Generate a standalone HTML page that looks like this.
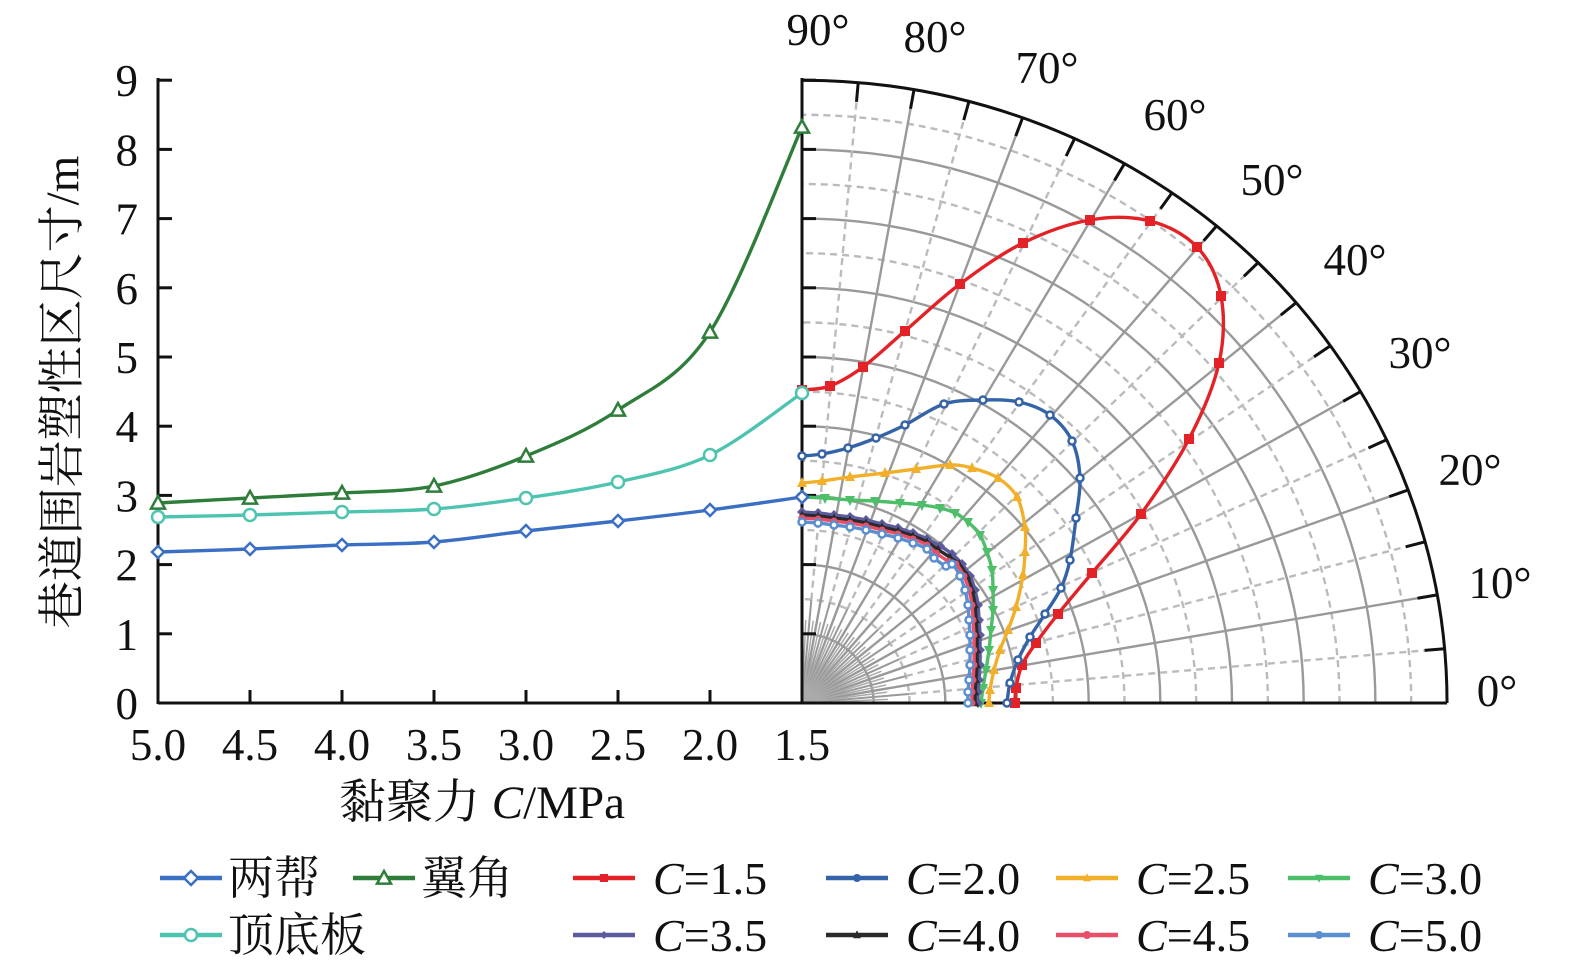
<!DOCTYPE html>
<html><head><meta charset="utf-8"><style>
html,body{margin:0;padding:0;background:#fff;}
svg{display:block;font-family:"Liberation Serif","Noto Serif CJK SC",serif;}
</style></head><body>
<svg id="s" width="1575" height="974" viewBox="0 0 1575 974" xmlns="http://www.w3.org/2000/svg">
<g id="grid"></g>
<g id="axes"></g>
<g id="data"></g>
<g id="txt" font-size="45" fill="#111"></g>
</svg>
<script>
const NS="http://www.w3.org/2000/svg";
function el(p,t,a,txt){const e=document.createElementNS(NS,t);for(const k in a)e.setAttribute(k,a[k]);if(txt!==undefined)e.textContent=txt;document.getElementById(p).appendChild(e);return e;}
const cx=802,cy=703,ux=71.67,uy=69.2;
for(let r=0.5;r<9;r+=0.5){
  const solid=Math.abs(r-Math.round(r))<0.01;
  el('grid','path',{d:`M${cx+r*ux},${cy} A${r*ux} ${r*uy} 0 0 0 ${cx},${cy-r*uy}`,fill:'none',stroke:solid?'#999':'#bbb','stroke-width':2.4,'stroke-dasharray':solid?'none':'7 5'});
}
for(let a=10;a<90;a+=10){
  const t=a*Math.PI/180;
  el('grid','line',{x1:cx,y1:cy,x2:cx+9*ux*Math.cos(t),y2:cy-9*uy*Math.sin(t),stroke:'#999','stroke-width':2.4});
}
for(let a=5;a<90;a+=10){
  const t=a*Math.PI/180;
  el('grid','line',{x1:cx,y1:cy,x2:cx+1.5*ux*Math.cos(t),y2:cy-1.5*uy*Math.sin(t),stroke:'#999','stroke-width':2});
  el('grid','line',{x1:cx+1.5*ux*Math.cos(t),y1:cy-1.5*uy*Math.sin(t),x2:cx+9*ux*Math.cos(t),y2:cy-9*uy*Math.sin(t),stroke:'#bbb','stroke-width':2.4,'stroke-dasharray':'7 5'});
}
for(let a=2.5;a<90;a+=5){
  const t=a*Math.PI/180;
  el('grid','line',{x1:cx,y1:cy,x2:cx+1.2*ux*Math.cos(t),y2:cy-1.2*uy*Math.sin(t),stroke:'#aaa','stroke-width':1.5});
}
el('axes','path',{d:`M${cx+9*ux},${cy} A${9*ux} ${9*uy} 0 0 0 ${cx},${cy-9*uy}`,fill:'none',stroke:'#111','stroke-width':3});
for(let a=5;a<90;a+=5){const t=a*Math.PI/180;
  el('axes','line',{x1:cx+9*ux*Math.cos(t),y1:cy-9*uy*Math.sin(t),x2:cx+8.72*ux*Math.cos(t),y2:cy-8.72*uy*Math.sin(t),stroke:'#111','stroke-width':3});}
el('axes','line',{x1:158,y1:703,x2:cx+9*ux,y2:703,stroke:'#111','stroke-width':3});
el('axes','line',{x1:158,y1:78,x2:158,y2:704,stroke:'#111','stroke-width':3});
el('axes','line',{x1:802,y1:78,x2:802,y2:704,stroke:'#111','stroke-width':3});
for(let v=0;v<=9;v++){const y=703-v*uy;
  el('axes','line',{x1:158,y1:y,x2:172,y2:y,stroke:'#111','stroke-width':3});
  el('axes','line',{x1:802,y1:y,x2:816,y2:y,stroke:'#111','stroke-width':3});
  el('txt','text',{x:138,y:y+16,'text-anchor':'end'},String(v));
}
['5.0','4.5','4.0','3.5','3.0','2.5','2.0','1.5'].forEach((s,i)=>{const x=158+i*92;
  el('axes','line',{x1:x,y1:703,x2:x,y2:690,stroke:'#111','stroke-width':3});
  el('txt','text',{x:x,y:760,'text-anchor':'middle'},s);});
el('txt','text',{x:482,y:818,'text-anchor':'middle','font-size':47}).innerHTML='黏聚力 <tspan font-style="italic">C</tspan>/MPa';
el('txt','text',{x:0,y:0,'text-anchor':'middle','font-size':47,transform:'translate(78,392) rotate(-90)'},'巷道围岩塑性区尺寸/m');
[['90°',818,45],['80°',935,52],['70°',1047,83],['60°',1175,130],['50°',1272,195],['40°',1355,275],['30°',1420,368],['20°',1470,485],['10°',1500,598],['0°',1497,706]].forEach(d=>el('txt','text',{x:d[1],y:d[2],'text-anchor':'middle'},d[0]));
function smooth(p){let d=`M${p[0][0]},${p[0][1]}`;for(let i=0;i<p.length-1;i++){const p0=p[i-1]||p[i],p1=p[i],p2=p[i+1],p3=p[i+2]||p2;
 d+=` C${p1[0]+(p2[0]-p0[0])/6},${p1[1]+(p2[1]-p0[1])/6} ${p2[0]-(p3[0]-p1[0])/6},${p2[1]-(p3[1]-p1[1])/6} ${p2[0]},${p2[1]}`;}return d;}
function marker(g,type,x,y,c,s){
  if(type=='sq')el(g,'rect',{x:x-s,y:y-s,width:2*s,height:2*s,fill:c});
  else if(type=='ci')el(g,'circle',{cx:x,cy:y,r:s,fill:'#fff',stroke:c,'stroke-width':2.5});
  else if(type=='dot')el(g,'circle',{cx:x,cy:y,r:s,fill:c});
  else if(type=='tu')el(g,'path',{d:`M${x},${y-s*1.2} L${x+s},${y+s*0.8} L${x-s},${y+s*0.8}Z`,fill:c});
  else if(type=='td')el(g,'path',{d:`M${x},${y+s*1.2} L${x+s},${y-s*0.8} L${x-s},${y-s*0.8}Z`,fill:c});
  else if(type=='di')el(g,'path',{d:`M${x},${y-s} L${x+s},${y} L${x},${y+s} L${x-s},${y}Z`,fill:c});
  else if(type=='odi')el(g,'path',{d:`M${x},${y-s} L${x+s},${y} L${x},${y+s} L${x-s},${y}Z`,fill:'#fff',stroke:c,'stroke-width':2.5});
  else if(type=='otu')el(g,'path',{d:`M${x},${y-s} L${x+s},${y+s*0.8} L${x-s},${y+s*0.8}Z`,fill:'#fff',stroke:c,'stroke-width':2.5});
}
function series(pts,c,m,s){
  el('data','path',{d:smooth(pts),fill:'none',stroke:c,'stroke-width':3.4});
  pts.forEach(p=>marker('data',m,p[0],p[1],c,s));
}
const P={
red:[[802,390],[830,386],[863,367],[905,331],[960,284],[1023,243],[1090,220],[1150,221],[1197,247],[1221,296],[1219,363],[1189,439],[1141,514],[1092,573],[1058,614],[1036,643],[1022,665],[1016,688],[1015,703]],
blue:[[802,456],[822,454],[848,448],[876,438],[905,425],[944,404],[983,400],[1019,402],[1050,415],[1072,441],[1080,478],[1076,518],[1070,560],[1061,588],[1045,614],[1030,637],[1018,660],[1010,683],[1007,703]],
yel:[[802,483],[822,481],[850,477],[885,473],[916,469],[950,465],[972,468],[998,478],[1017,497],[1025,527],[1025,552],[1023,575],[1016,607],[1008,630],[1000,650],[994,670],[990,690],[989,703]],
grn:[[802,497],[825,498],[850,500],[875,501],[900,503],[922,505],[940,508],[955,513],[968,522],[980,535],[987,552],[992,570],[993,590],[993,610],[991,630],[989,650],[986,670],[983,688],[981,703]],
};
function inner(off){const b=[[802,512],[818,513],[834,515],[850,517],[866,520],[882,524],[898,528],[913,533],[927,539],[940,546],[952,554],[962,564],[970,576],[975,590],[978,605],[979,620],[980,635],[980,650],[980,665],[979,680],[978,692],[978,703]];
 return b.map(p=>{const q=[p[0],p[1]]; if(p[1]>=560) q[0]=p[0]-off; else q[1]=p[1]+off; if(p[1]>=540&&p[1]<560){q[0]-=off*0.6;q[1]+=off*0.2;} return q;});}
series(P.red,'#e32228','sq',5);
series(P.blue,'#3563a8','ci',3.5);
series(P.yel,'#f2b02a','tu',5);
series(P.grn,'#4cbf68','td',5);
series(inner(0),'#5b5b9e','di',5);
series(inner(3),'#2a2a2a','tu',4);
series(inner(6),'#e8506a','dot',3.5);
series(inner(10),'#5b8fcf','ci',3.5);
const X=c=>158+(5-c)*184,Cs=[5,4.5,4,3.5,3,2.5,2,1.5];
const L1=[552,549,545,542,531,521,510,497],L2=[503,498,493,486,456,410,332,127],L3=[517,515,512,509,498,482,455,393];
series(Cs.map((c,i)=>[X(c),L2[i]]),'#2e7d3a','otu',7);
series(Cs.map((c,i)=>[X(c),L3[i]]),'#4ec4b0','ci',6);
series(Cs.map((c,i)=>[X(c),L1[i]]),'#3a6fc4','odi',6);
function leg(x,y,c,m,s,label,ital){el('data','line',{x1:x,y1:y,x2:x+62,y2:y,stroke:c,'stroke-width':4.5});marker('data',m,x+31,y,c,s);
 const t=el('txt','text',{x:x+(ital?80:68),y:y+16,'font-size':46});t.innerHTML=label;}
leg(160,878,'#3a6fc4','odi',7,'两帮');
leg(353,878,'#2e7d3a','otu',7,'翼角');
leg(160,935,'#4ec4b0','ci',6,'顶底板');
const cl=[['#e32228','sq','1.5'],['#3563a8','dot','2.0'],['#f2b02a','tu','2.5'],['#4cbf68','td','3.0'],['#5b5b9e','di','3.5'],['#2a2a2a','tu','4.0'],['#e8506a','dot','4.5'],['#5b8fcf','dot','5.0']];
const lx=[573,826,1056,1288];
cl.forEach((d,i)=>leg(lx[i%4],i<4?878:935,d[0],d[1],4,'<tspan font-style="italic">C</tspan>='+d[2],true));
</script>
</body></html>
